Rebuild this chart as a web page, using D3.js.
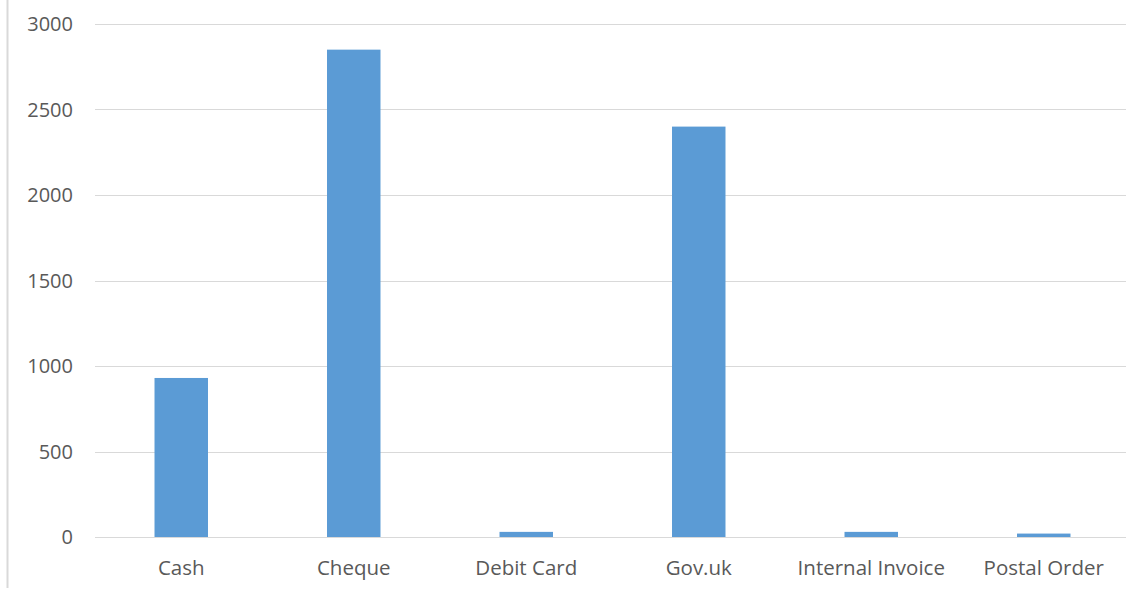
<!DOCTYPE html>
<html>
<head>
<meta charset="utf-8">
<script src="https://cdn.jsdelivr.net/npm/d3@7"></script>
<style>
  html, body { margin: 0; background: #fff; overflow: hidden; }
  svg { display: block; }
  text { font-family: "Open Sans", "DejaVu Sans", sans-serif; fill: #595959; }
</style>
</head>
<body>
<div id="chart"></div>
<script>
const categories = ["Cash", "Cheque", "Debit Card", "Gov.uk", "Internal Invoice", "Postal Order"];
const values = [930, 2850, 30, 2400, 30, 20];
const yTicks = [0, 500, 1000, 1500, 2000, 2500, 3000];

const width = 1126;
const height = 590;
const margin = { top: 24, right: 0, bottom: 53, left: 95 };
const innerWidth = width - margin.left - margin.right;
const innerHeight = height - margin.top - margin.bottom;

const svg = d3.select("#chart")
  .append("svg")
  .attr("width", width)
  .attr("height", height);

// left border of the frame
svg.append("line")
  .attr("x1", 7.5).attr("x2", 7.5)
  .attr("y1", 0).attr("y2", 588)
  .attr("stroke", "#d9d9d9")
  .attr("stroke-width", 2);

const g = svg.append("g")
  .attr("transform", `translate(${margin.left},${margin.top})`);

// plot area runs a few px past the right edge of the picture
const x = d3.scaleBand()
  .domain(categories)
  .range([0, innerWidth + 4])
  .paddingInner(0.69)
  .paddingOuter(0.345);

const y = d3.scaleLinear()
  .domain([0, 3000])
  .range([innerHeight, 0]);

// gridlines
g.selectAll(".grid")
  .data(yTicks)
  .enter()
  .append("line")
  .attr("class", "grid")
  .attr("x1", 0)
  .attr("x2", innerWidth)
  .attr("y1", d => Math.round(y(d)) + 0.5)
  .attr("y2", d => Math.round(y(d)) + 0.5)
  .attr("stroke", "#d9d9d9")
  .attr("stroke-width", 1);

g.selectAll(".bar")
  .data(values)
  .enter()
  .append("rect")
  .attr("class", "bar")
  .attr("x", (d, i) => x(categories[i]))
  .attr("y", d => y(d))
  .attr("width", x.bandwidth())
  .attr("height", d => innerHeight - y(d))
  .attr("fill", "#5b9bd5");

// y tick labels
g.selectAll(".ylab")
  .data(yTicks)
  .enter()
  .append("text")
  .attr("class", "ylab")
  .attr("x", -22)
  .attr("y", d => y(d))
  .attr("dy", "0.35em")
  .attr("text-anchor", "end")
  .style("font-size", "20px")
  .text(d => d);

// category labels
g.selectAll(".xlab")
  .data(categories)
  .enter()
  .append("text")
  .attr("class", "xlab")
  .attr("x", d => x(d) + x.bandwidth() / 2)
  .attr("y", innerHeight + 38)
  .attr("text-anchor", "middle")
  .style("font-size", "20.5px")
  .text(d => d);
</script>
</body>
</html>
